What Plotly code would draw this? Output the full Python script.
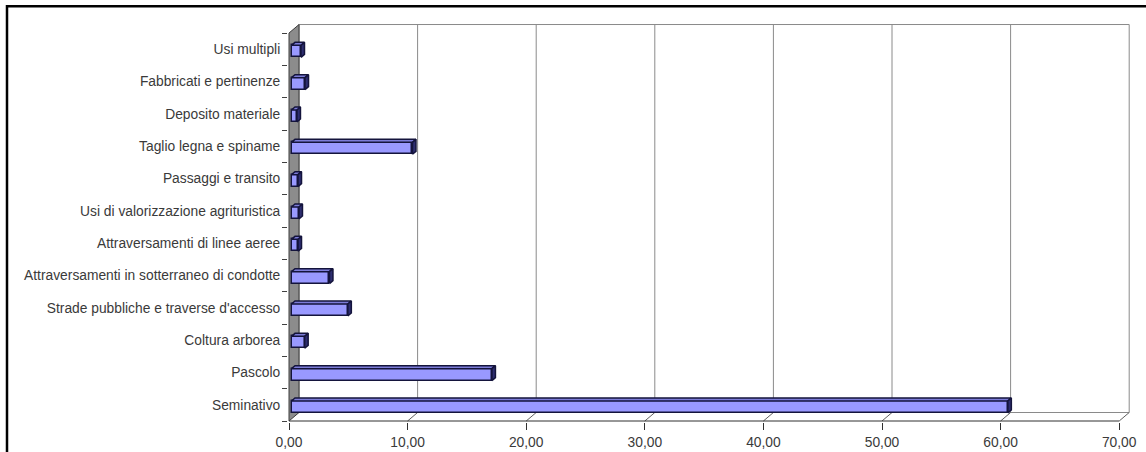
import plotly.graph_objects as go

# ---- data (bottom to top) ----
categories = [
    "Seminativo",
    "Pascolo",
    "Coltura arborea",
    "Strade pubbliche e traverse d'accesso",
    "Attraversamenti in sotterraneo di condotte",
    "Attraversamenti di linee aeree",
    "Usi di valorizzazione agrituristica",
    "Passaggi e transito",
    "Taglio legna e spiname",
    "Deposito materiale",
    "Fabbricati e pertinenze",
    "Usi multipli",
]
values = [60.4, 16.9, 1.11, 4.75, 3.2, 0.55, 0.63, 0.55, 10.2, 0.46, 1.14, 0.80]
x_ticks = [0, 10, 20, 30, 40, 50, 60, 70]

# ---- geometry (pixel layout of the 3D frame) ----
W, H = 1146, 452
L, R, T, B = 288, 1131, 24, 422          # plot area in px
PXX = 11.86                               # px per x unit
PXY = 32.33                               # px per category
X0PX = 289                                # px of x=0 on the front plane
Y0PX = 404.83                             # px of first category centre (front)
xr = [(L - X0PX) / PXX, (R - X0PX) / PXX]
yr = [(Y0PX - B) / PXY, (Y0PX - T) / PXY]
DX = 10 / PXX                             # depth offset in data units
DY = 8.5 / PXY
n = len(categories)
XMAX = x_ticks[-1]

FA = 0.25    # depth fraction of bar front face
FB = 0.35    # depth fraction of bar thickness
HB = 0.185   # half bar height (category units)

FONT = "Liberation Sans, Arial, sans-serif"
FSIZE = 13.8
FCOL = "#3a3a3a"
GRID = "#8a8a8a"
EDGE = "#14143c"

fig = go.Figure()

shapes = []
# back wall
shapes.append(dict(type="rect", xref="x", yref="y", x0=DX, x1=XMAX + DX,
                   y0=-0.5 + DY, y1=n - 0.5 + DY, line=dict(color=GRID, width=1),
                   fillcolor="white", layer="below"))
# back gridlines
for t in x_ticks[1:-1]:
    shapes.append(dict(type="line", xref="x", yref="y", x0=t + DX, x1=t + DX,
                       y0=-0.5 + DY, y1=n - 0.5 + DY, line=dict(color=GRID, width=1),
                       layer="below"))
# floor diagonals
for t in x_ticks[1:]:
    shapes.append(dict(type="line", xref="x", yref="y", x0=t, x1=t + DX,
                       y0=-0.5, y1=-0.5 + DY, line=dict(color="#606060", width=1),
                       layer="below"))
# left side wall (grey)
shapes.append(dict(type="path", xref="x", yref="y",
                   path=f"M 0 {-0.5} L 0 {n-0.5} L {DX} {n-0.5+DY} L {DX} {-0.5+DY} Z",
                   fillcolor="#8c8c8c", line=dict(color="#3c3c3c", width=1), layer="below"))
# front axis line
shapes.append(dict(type="line", xref="x", yref="y", x0=0, x1=XMAX, y0=-0.5, y1=-0.5,
                   line=dict(color="#303030", width=1), layer="below"))
# outer frame
shapes.append(dict(type="rect", xref="paper", yref="paper",
                   x0=(7 - L) / (R - L), x1=(1170 - L) / (R - L),
                   y0=(B - 480) / (B - T), y1=1 + (T - 6.3) / (B - T),
                   line=dict(color="black", width=2.5), layer="above"))

# bar front faces
ys = [i - FA * DY for i in range(n)]
fig.add_trace(go.Bar(
    y=ys, x=values, base=FA * DX, orientation="h", width=2 * HB,
    marker=dict(color="#9999ff", line=dict(color=EDGE, width=1.5)),
    hoverinfo="skip", showlegend=False,
))

# top faces and side faces
tx, ty, sx, sy = [], [], [], []
for i, v in enumerate(values):
    x0 = FA * DX
    x1 = FA * DX + v
    yt = ys[i] + HB
    yb = ys[i] - HB
    ox, oy = FB * DX, FB * DY
    tx += [x0, x1, x1 + ox, x0 + ox, x0, None]
    ty += [yt, yt, yt + oy, yt + oy, yt, None]
    sx += [x1, x1, x1 + ox, x1 + ox, x1, None]
    sy += [yb, yt, yt + oy, yb + oy, yb, None]

fig.add_trace(go.Scatter(x=tx, y=ty, mode="lines", fill="toself",
                         fillcolor="#7c7cd8", line=dict(color=EDGE, width=1.5),
                         hoverinfo="skip", showlegend=False))
fig.add_trace(go.Scatter(x=sx, y=sy, mode="lines", fill="toself",
                         fillcolor="#2e2e70", line=dict(color=EDGE, width=1.5),
                         hoverinfo="skip", showlegend=False))

fig.update_layout(
    width=W, height=H,
    margin=dict(l=L, r=W - R, t=T, b=H - B, pad=0),
    paper_bgcolor="white", plot_bgcolor="white",
    separators=",.",
    shapes=shapes,
    font=dict(family=FONT, size=FSIZE, color=FCOL),
    xaxis=dict(range=xr, tickmode="array", tickvals=x_ticks, tickformat=".2f",
               ticks="outside", ticklen=7, tickcolor="#303030", tickwidth=1,
               showgrid=False, zeroline=False, showline=False, automargin=False,
               fixedrange=True, tickfont=dict(family=FONT, size=FSIZE, color=FCOL)),
    yaxis=dict(range=yr, tickmode="array", tickvals=list(range(n)), ticktext=categories,
               ticks="outside", ticklen=4, tickcolor="rgba(0,0,0,0)",
               minor=dict(tickmode="linear", tick0=-0.5, dtick=1, ticks="outside",
                          ticklen=5, tickcolor="#404040", tickwidth=1),
               showgrid=False, zeroline=False, showline=False, automargin=False,
               fixedrange=True, tickfont=dict(family=FONT, size=FSIZE, color=FCOL)),
    bargap=0,
)

fig.write_html("out.html")
